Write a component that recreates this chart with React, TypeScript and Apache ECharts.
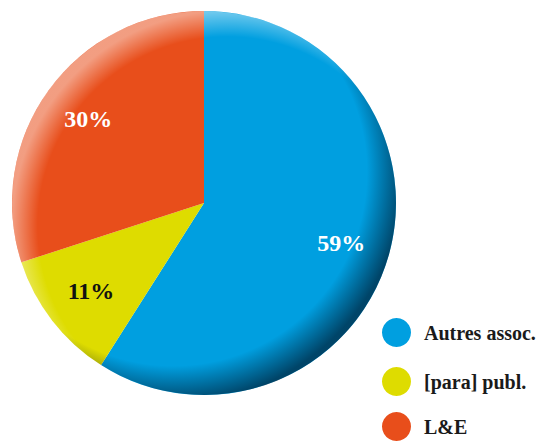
import React, { useEffect, useRef } from "react";
import * as echarts from "echarts";

const categories = ["Autres assoc.", "[para] publ.", "L&E"];
const values = [59, 11, 30];
const colors = ["#009fe0", "#dedc00", "#e84e1b"];
const labelColors = ["#ffffff", "#111111", "#ffffff"];

export default function App() {
  const ref = useRef<HTMLDivElement>(null);
  useEffect(() => {
    if (!ref.current) return;
    const chart = echarts.init(ref.current, null, { renderer: "svg" });
    const cx = 204;
    const cy = 203;
    const R = 192;
    const data = categories.map((name, i) => ({
      name,
      value: values[i],
      itemStyle: { color: colors[i] },
      label: { color: labelColors[i] },
    }));
    const legendTops = [318, 367, 412];
    chart.setOption({
      animation: false,
      legend: categories.map((name, i) => ({
        orient: "vertical",
        left: 382,
        top: legendTops[i],
        height: 60,
        padding: 0,
        icon: "circle",
        itemWidth: 29,
        itemHeight: 29,
        data: [name],
        selectedMode: false,
        textStyle: {
          fontFamily: "Liberation Serif",
          fontWeight: "bold",
          fontSize: 20,
          color: "#1a1a1a",
          padding: [0, 0, 0, 8],
        },
      })),
      series: [
        {
          type: "pie",
          center: [cx, cy],
          radius: [0, R],
          startAngle: 90,
          clockwise: true,
          silent: true,
          label: { show: false },
          labelLine: { show: false },
          data,
        },
        {
          type: "pie",
          center: [cx, cy],
          radius: [88, R],
          startAngle: 90,
          clockwise: true,
          silent: true,
          z: 10,
          itemStyle: { color: "rgba(0,0,0,0)" },
          label: {
            show: true,
            position: "inside",
            formatter: "{c}%",
            fontFamily: "Liberation Serif",
            fontWeight: "bold",
            fontSize: 24,
          },
          labelLine: { show: false },
          data: categories.map((name, i) => ({
            name,
            value: values[i],
            itemStyle: { color: "rgba(0,0,0,0)" },
            label: { color: labelColors[i] },
          })),
        },
      ],
      graphic: [
        {
          type: "circle",
          z: 5,
          silent: true,
          shape: { cx, cy, r: R },
          style: {
            fill: new echarts.graphic.RadialGradient(0.42, 0.42, 0.6, [
              { offset: 0, color: "rgba(0,20,40,0)" },
              { offset: 0.84, color: "rgba(0,20,40,0)" },
              { offset: 1, color: "rgba(0,20,40,0.65)" },
            ]),
          },
        },
        {
          type: "circle",
          z: 6,
          silent: true,
          shape: { cx, cy, r: R },
          style: {
            fill: new echarts.graphic.RadialGradient(0.56, 0.56, 0.56, [
              { offset: 0, color: "rgba(255,255,255,0)" },
              { offset: 0.88, color: "rgba(255,255,255,0)" },
              { offset: 1, color: "rgba(255,255,255,0.45)" },
            ]),
          },
        },
      ],
    });
    return () => chart.dispose();
  }, []);
  return (
    <div
      ref={ref}
      style={{ position: "absolute", left: 0, top: 0, width: 546, height: 441 }}
    />
  );
}
